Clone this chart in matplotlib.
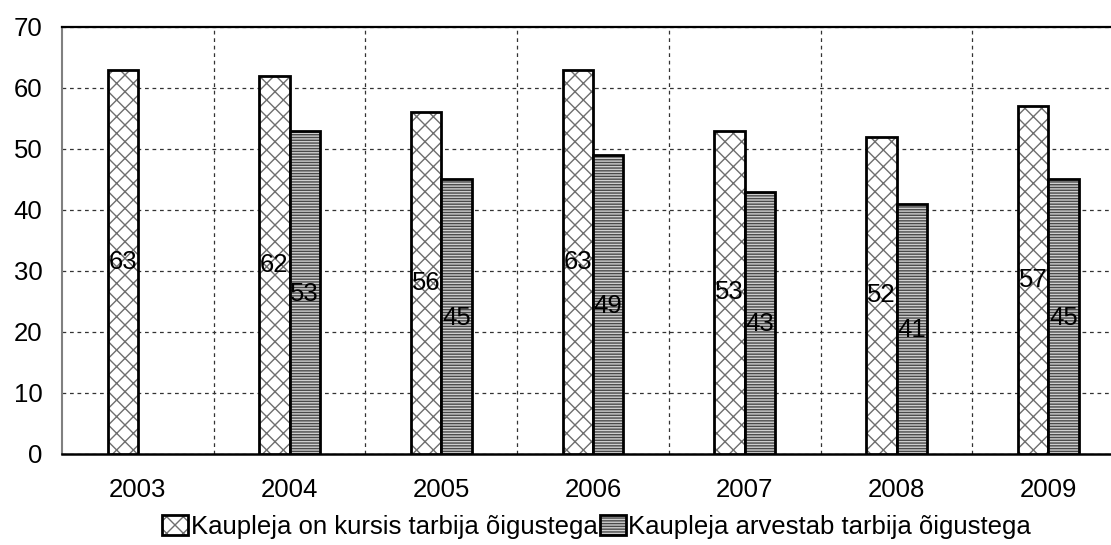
import numpy as np
import matplotlib
matplotlib.use("Agg")
import matplotlib.pyplot as plt

years = ["2003", "2004", "2005", "2006", "2007", "2008", "2009"]
kursis = [63, 62, 56, 63, 53, 52, 57]
arvestab = [None, 53, 45, 49, 43, 41, 45]
series_names = ["Kaupleja on kursis tarbija õigustega",
                "Kaupleja arvestab tarbija õigustega"]

plt.rcParams["font.family"] = ["Liberation Sans", "DejaVu Sans"]
plt.rcParams["hatch.linewidth"] = 1.0
FS = 18.5

fig = plt.figure(figsize=(11.11, 5.45), dpi=100)
ax = fig.add_axes([0.0558, 0.167, 0.956, 0.7835])

x = np.arange(len(years))
width = 0.2

b1 = ax.bar(x - width / 2, kursis, width, color="white", edgecolor="black",
            linewidth=2.0, hatch="xx", label=series_names[0], zorder=3)
for r in b1:
    r._hatch_color = matplotlib.colors.to_rgba("#6e6e6e")

xs2 = [xi for xi, v in zip(x, arvestab) if v is not None]
vals2 = [v for v in arvestab if v is not None]
b2 = ax.bar(np.array(xs2) + width / 2, vals2, width, color="#cfcfcf",
            edgecolor="black", linewidth=2.0, hatch="------",
            label=series_names[1], zorder=3)
for r in b2:
    r._hatch_color = matplotlib.colors.to_rgba("#4a4a4a")

# value labels in the middle of each bar
for xi, v in zip(x, kursis):
    ax.text(xi - width / 2, v / 2, str(v), ha="center", va="center",
            fontsize=FS, zorder=4)
for xi, v in zip(xs2, vals2):
    ax.text(xi + width / 2, v / 2 - 0.2, str(v), ha="center", va="center",
            fontsize=FS, zorder=4)

ax.set_xlim(-0.5, len(years) - 0.5)
ax.set_ylim(0, 70)
ax.set_yticks(np.arange(0, 71, 10))
ax.set_xticks(x)
ax.set_xticklabels(years)
ax.set_xticks(x[:-1] + 0.5, minor=True)
ax.tick_params(axis="both", which="both", length=0, labelsize=FS)
ax.tick_params(axis="x", pad=17)
ax.tick_params(axis="y", pad=14)

ax.grid(axis="y", which="major", color="#333333", linestyle=(0, (3, 3)),
        linewidth=0.9, zorder=1)
ax.grid(axis="x", which="minor", color="#333333", linestyle=(0, (3, 3)),
        linewidth=0.9, zorder=1)

ax.spines["top"].set_color("black")
ax.spines["top"].set_linewidth(1.6)
ax.spines["bottom"].set_color("black")
ax.spines["bottom"].set_linewidth(1.8)
ax.spines["left"].set_color("#808080")
ax.spines["left"].set_linewidth(1.5)
ax.spines["right"].set_visible(False)

fig.legend(handles=[b1, b2], labels=series_names, loc="center",
           bbox_to_anchor=(0.537, 0.033), ncol=2, frameon=False,
           fontsize=FS, handlelength=1.0, handleheight=0.8,
           handletextpad=0.1, columnspacing=0.1, borderpad=0)

fig.savefig("out.png", dpi=100)
